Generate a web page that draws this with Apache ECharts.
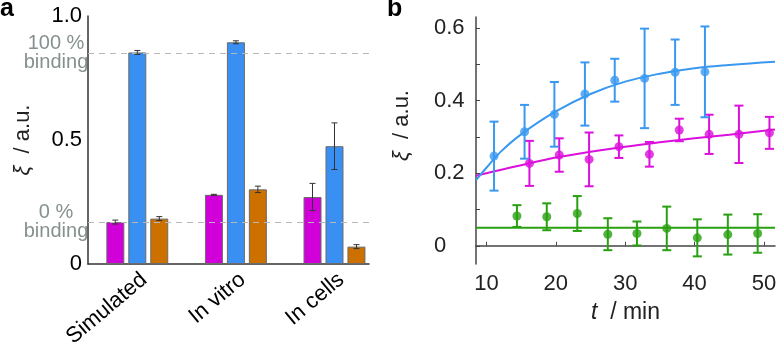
<!DOCTYPE html>
<html>
<head>
<meta charset="utf-8">
<script src="https://cdn.jsdelivr.net/npm/echarts@6/dist/echarts.min.js"></script>
<style>
  html, body { margin: 0; padding: 0; background: #fff; }
  #chart { width: 777px; height: 345px; }
</style>
</head>
<body>
<div id="chart"></div>
<script>
// panel a: bar values
const categories = ['Simulated', 'In vitro', 'In cells'];
const barMagenta = [0.169, 0.279, 0.270];
const barMagentaErr = [0.008, 0.002, 0.055];
const barBlue = [0.853, 0.894, 0.475];
const barBlueErr = [0.008, 0.006, 0.094];
const barOrange = [0.183, 0.301, 0.070];
const barOrangeErr = [0.008, 0.013, 0.008];
const bindingLevels = [0.855, 0.173];
const bindingLabels = ['100 %\nbinding', '0 %\nbinding'];

// panel b: time series
const blueT = [11.1, 15.5, 19.8, 24.2, 28.5, 32.8, 37.2, 41.5];
const blueXi = [0.247, 0.314, 0.362, 0.418, 0.456, 0.461, 0.478, 0.479];
const blueErr = [0.095, 0.074, 0.089, 0.087, 0.059, 0.137, 0.090, 0.125];
const magentaT = [16.2, 20.5, 24.8, 29.1, 33.5, 37.8, 42.1, 46.4, 50.8];
const magentaXi = [0.227, 0.250, 0.238, 0.273, 0.252, 0.319, 0.307, 0.307, 0.311];
const magentaErr = [0.062, 0.046, 0.074, 0.031, 0.034, 0.031, 0.054, 0.079, 0.044];
const greenT = [14.4, 18.7, 23.1, 27.5, 31.7, 36.0, 40.4, 44.8, 49.1];
const greenXi = [0.082, 0.080, 0.089, 0.032, 0.034, 0.048, 0.022, 0.031, 0.034];
const greenErr = [0.030, 0.037, 0.048, 0.044, 0.033, 0.060, 0.051, 0.055, 0.053];
const fitT = [8.5, 10, 12, 15, 20, 25, 30, 35, 40, 45, 51.6];
const blueFit = [0.181, 0.215, 0.258, 0.307, 0.370, 0.418, 0.452, 0.474, 0.489, 0.498, 0.507];
const magentaFit = [0.193, 0.200, 0.209, 0.222, 0.243, 0.259, 0.273, 0.285, 0.296, 0.306, 0.320];
const greenFitT = [8.5, 51.6];
const greenFit = [0.050, 0.050];
const xTicksB = [10, 20, 30, 40, 50];
const yLabelsB = [0, 0.2, 0.4, 0.6];
const yTicksB = [0, 0.1, 0.2, 0.3, 0.4, 0.5, 0.6];

const MAGENTA = '#d200d8';
const BLUE = '#3a90f2';
const ORANGE = '#cc7000';
const B_BLUE = '#3a98f0';
const B_MAGENTA = '#dc10dc';
const B_GREEN = '#28a010';
const FONT = '"Liberation Sans", Arial, sans-serif';

const chart = echarts.init(document.getElementById('chart'), null, { renderer: 'canvas' });

// error bar drawer; offset in px shifts the bar sideways (for grouped bars)
function errorBars(offset, capW, color, width) {
  return function (params, api) {
    const x = api.value(0), y = api.value(1), e = api.value(2);
    const top = api.coord([x, y + e]);
    const bot = api.coord([x, y - e]);
    const cx = top[0] + offset;
    const style = { stroke: color, lineWidth: width };
    return {
      type: 'group',
      children: [
        { type: 'line', shape: { x1: cx, y1: top[1], x2: cx, y2: bot[1] }, style },
        { type: 'line', shape: { x1: cx - capW / 2, y1: top[1], x2: cx + capW / 2, y2: top[1] }, style },
        { type: 'line', shape: { x1: cx - capW / 2, y1: bot[1], x2: cx + capW / 2, y2: bot[1] }, style }
      ]
    };
  };
}

const pos = categories.map((c, i) => i + 1);
const labelPos = pos.map(p => p + 0.07); // rotated labels sit a little right of the ticks
const toBar = vals => vals.map((v, i) => [pos[i], v]);
const toErr = (vals, errs) => vals.map((v, i) => [pos[i], v, errs[i]]);
const pts = (ts, vs) => ts.map((t, i) => [t, vs[i]]);
const errPts = (ts, vs, es) => ts.map((t, i) => [t, vs[i], es[i]]);

const barStyle = c => ({ color: c, borderColor: '#6b6b6b', borderWidth: 1 });
const BAR_W = 18;
const BAR_STEP = 22;

const option = {
  animation: false,
  textStyle: { fontFamily: FONT },
  title: [
    { text: 'a', left: 0, top: -3, padding: 0, textStyle: { fontSize: 25, fontWeight: 'bold', color: '#000', fontFamily: FONT } },
    { text: 'b', left: 387, top: -3, padding: 0, textStyle: { fontSize: 25, fontWeight: 'bold', color: '#000', fontFamily: FONT } }
  ],
  grid: [
    { left: 88, top: 16, width: 281, height: 248, outerBoundsMode: 'none' },
    { left: 476, top: 17, width: 299, height: 247, outerBoundsMode: 'none' }
  ],
  xAxis: [
    {
      gridIndex: 0, type: 'value', min: 0.5, max: 3.35,
      axisLine: { lineStyle: { color: '#333', width: 1.5 } },
      axisTick: { show: true, inside: true, length: 4, customValues: pos, lineStyle: { color: '#333' } },
      axisLabel: {
        customValues: labelPos, rotate: 40, margin: 13, fontSize: 22, color: '#000', fontFamily: FONT,
        formatter: v => categories[Math.round(v) - 1]
      },
      splitLine: { show: false }
    },
    {
      gridIndex: 1, type: 'value', min: 8.5, max: 51.6,
      name: '{i|t}  / min', nameLocation: 'middle', nameGap: 37,
      nameTextStyle: {
        fontSize: 23, color: '#222', fontFamily: FONT,
        rich: { i: { fontSize: 23, fontStyle: 'italic', color: '#222', fontFamily: FONT } }
      },
      axisLine: { lineStyle: { color: '#444', width: 1.5 } },
      axisTick: { show: true, inside: true, length: 4, customValues: xTicksB, lineStyle: { color: '#444' } },
      axisLabel: { customValues: xTicksB, margin: 9, fontSize: 22, color: '#222', fontFamily: FONT },
      splitLine: { show: false }
    }
  ],
  yAxis: [
    {
      gridIndex: 0, type: 'value', min: 0, max: 1, interval: 0.5,
      name: '{i|ξ}  / a.u.', nameLocation: 'middle', nameGap: 54,
      nameTextStyle: {
        fontSize: 22, color: '#222', fontFamily: FONT,
        rich: { i: { fontSize: 22, fontStyle: 'italic', color: '#222', fontFamily: FONT } }
      },
      axisLine: { show: true, lineStyle: { color: '#333', width: 1.5 } },
      axisTick: { show: false },
      axisLabel: {
        margin: 6, fontSize: 22, color: '#000', fontFamily: FONT,
        formatter: v => (v === 0 ? '0' : v.toFixed(1))
      },
      splitLine: { show: false }
    },
    {
      gridIndex: 1, type: 'value', min: -0.05, max: 0.63,
      name: '{i|ξ}  / a.u.', nameLocation: 'middle', nameGap: 63,
      nameTextStyle: {
        fontSize: 22, color: '#222', fontFamily: FONT, padding: [0, 0, 0, 30],
        rich: { i: { fontSize: 22, fontStyle: 'italic', color: '#222', fontFamily: FONT } }
      },
      axisLine: { show: true, lineStyle: { color: '#444', width: 1.5 } },
      axisTick: { show: true, inside: true, length: 4, customValues: yTicksB, lineStyle: { color: '#444' } },
      axisLabel: {
        customValues: yLabelsB, align: 'left', margin: 42, fontSize: 22, color: '#222', fontFamily: FONT,
        formatter: v => (Math.abs(v) < 1e-9 ? '0' : v.toFixed(1))
      },
      splitLine: { show: false }
    }
  ],
  series: [
    { name: 'magenta', type: 'bar', xAxisIndex: 0, yAxisIndex: 0, barWidth: BAR_W, barGap: '22%',
      itemStyle: barStyle(MAGENTA), data: toBar(barMagenta) },
    { name: 'blue', type: 'bar', xAxisIndex: 0, yAxisIndex: 0, barWidth: BAR_W, barGap: '22%',
      itemStyle: barStyle(BLUE), data: toBar(barBlue),
      markLine: {
        silent: true, symbol: 'none', z: 5,
        lineStyle: { color: '#b8b8b8', type: [6, 5], width: 1.2 },
        label: {
          position: 'start', distance: 32, align: 'center', color: '#85918f',
          fontSize: 20, lineHeight: 19, fontFamily: FONT,
          formatter: p => bindingLabels[p.dataIndex]
        },
        data: bindingLevels.map(v => ({ yAxis: v }))
      }
    },
    { name: 'orange', type: 'bar', xAxisIndex: 0, yAxisIndex: 0, barWidth: BAR_W, barGap: '22%',
      itemStyle: barStyle(ORANGE), data: toBar(barOrange) },
    { type: 'custom', xAxisIndex: 0, yAxisIndex: 0, z: 6, renderItem: errorBars(-BAR_STEP, 6, '#333', 1),
      data: toErr(barMagenta, barMagentaErr) },
    { type: 'custom', xAxisIndex: 0, yAxisIndex: 0, z: 6, renderItem: errorBars(0, 6, '#333', 1),
      data: toErr(barBlue, barBlueErr) },
    { type: 'custom', xAxisIndex: 0, yAxisIndex: 0, z: 6, renderItem: errorBars(BAR_STEP, 6, '#333', 1),
      data: toErr(barOrange, barOrangeErr) },

    // panel b fits
    { type: 'line', xAxisIndex: 1, yAxisIndex: 1, smooth: 0.4, showSymbol: false, z: 3,
      lineStyle: { color: B_GREEN, width: 2 }, data: pts(greenFitT, greenFit) },
    { type: 'line', xAxisIndex: 1, yAxisIndex: 1, smooth: 0.4, showSymbol: false, z: 3,
      lineStyle: { color: B_MAGENTA, width: 2 }, data: pts(fitT, magentaFit) },
    { type: 'line', xAxisIndex: 1, yAxisIndex: 1, smooth: 0.4, showSymbol: false, z: 3,
      lineStyle: { color: B_BLUE, width: 2 }, data: pts(fitT, blueFit) },
    // panel b error bars
    { type: 'custom', xAxisIndex: 1, yAxisIndex: 1, z: 4, renderItem: errorBars(0, 9, B_GREEN, 2),
      data: errPts(greenT, greenXi, greenErr) },
    { type: 'custom', xAxisIndex: 1, yAxisIndex: 1, z: 4, renderItem: errorBars(0, 9, B_MAGENTA, 2),
      data: errPts(magentaT, magentaXi, magentaErr) },
    { type: 'custom', xAxisIndex: 1, yAxisIndex: 1, z: 4, renderItem: errorBars(0, 9, B_BLUE, 2),
      data: errPts(blueT, blueXi, blueErr) },
    // panel b points
    { type: 'scatter', xAxisIndex: 1, yAxisIndex: 1, z: 5, symbol: 'circle', symbolSize: 9,
      itemStyle: { color: B_GREEN }, data: pts(greenT, greenXi) },
    { type: 'scatter', xAxisIndex: 1, yAxisIndex: 1, z: 5, symbol: 'circle', symbolSize: 9,
      itemStyle: { color: B_MAGENTA }, data: pts(magentaT, magentaXi) },
    { type: 'scatter', xAxisIndex: 1, yAxisIndex: 1, z: 5, symbol: 'circle', symbolSize: 9,
      itemStyle: { color: B_BLUE }, data: pts(blueT, blueXi) }
  ]
};

chart.setOption(option);
window.addEventListener('resize', () => chart.resize());
</script>
</body>
</html>
